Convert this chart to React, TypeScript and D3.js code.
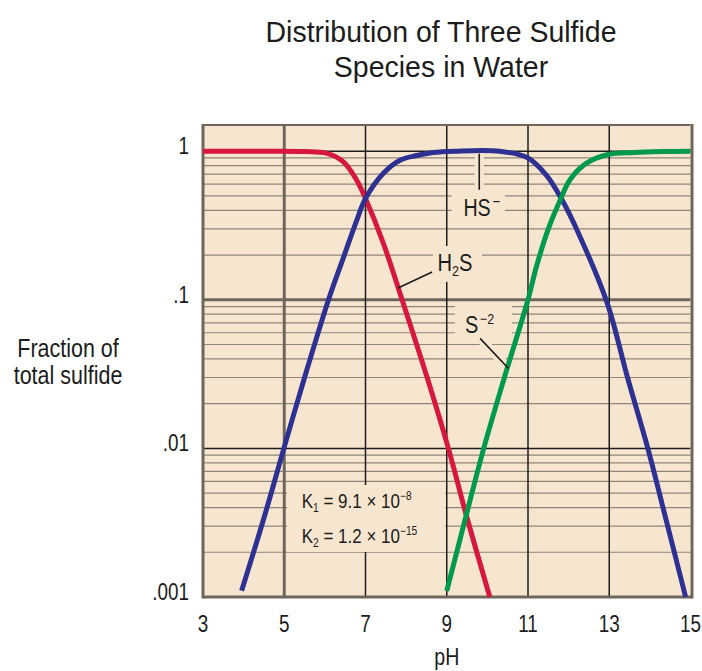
import React from "react";
import * as d3 from "d3";

// Chart size
const W = 702;
const H = 671;

// Axis ticks
const X_TICKS = [3, 5, 7, 9, 11, 13, 15];
const Y_TICKS = [1, 0.1, 0.01, 0.001];
const Y_TICK_LABELS = ["1", ".1", ".01", ".001"];

// Fraction of total sulfide vs pH, one array of [pH, fraction] per species
const H2S_POINTS: [number, number][] = [
  [3, 1], [4.5, 1], [5.5, 0.995], [6.04, 0.97], [6.45, 0.85], [6.78, 0.64], [7, 0.48],
  [7.44, 0.24], [7.9, 0.1], [8.5, 0.031], [9.04, 0.01], [9.5, 0.0034], [10.06, 0.001],
];
const HS_POINTS: [number, number][] = [
  [3.95, 0.0011], [4.5, 0.0034], [5, 0.0102], [5.5, 0.03], [6.1, 0.102], [6.45, 0.19],
  [6.78, 0.34], [7, 0.48], [7.44, 0.71], [7.85, 0.87], [8.26, 0.935], [8.66, 0.98],
  [9.2, 1], [10.3, 1], [11, 0.9], [11.45, 0.69], [11.82, 0.48], [12.27, 0.27],
  [12.95, 0.095], [13.45, 0.03], [13.95, 0.01], [14.4, 0.0033], [14.88, 0.001],
];
const S2_POINTS: [number, number][] = [
  [9, 0.0011], [9.45, 0.0033], [9.91, 0.01], [10.45, 0.032], [11, 0.1], [11.21, 0.168],
  [11.5, 0.3], [11.78, 0.46], [12.03, 0.64], [12.44, 0.83], [12.97, 0.95], [13.6, 0.98],
  [14.3, 0.995], [15, 1],
];

const FONT = "'Liberation Sans', Arial, Helvetica, sans-serif";
const BG = "#f7e6cf";
const INK = "#1c1c1c";
const MINOR = "#8f8677";
const HEAVY = "#6f665b";
const RED = "#d6173f";
const BLUE = "#2e3192";
const GREEN = "#00994d";

type TProps = {
  x: number;
  y: number;
  size: number;
  sx?: number;
  anchor?: "start" | "middle" | "end";
  children: React.ReactNode;
};

// Text drawn with a horizontal squeeze to get a condensed face
function T({ x, y, size, sx = 1, anchor = "start", children }: TProps) {
  return (
    <text
      transform={`translate(${x},${y}) scale(${sx},1)`}
      fontSize={size}
      fontFamily={FONT}
      textAnchor={anchor}
      fill={INK}
    >
      {children}
    </text>
  );
}

export default function App() {
  const x = d3.scaleLinear().domain([3, 15]).range([203, 690.5]);
  const y = d3.scaleLog().domain([0.001, 1.5]).range([597, 125]);
  const line = d3
    .line<[number, number]>()
    .x((d) => x(d[0]))
    .y((d) => y(d[1]))
    .curve(d3.curveCatmullRom.alpha(0.5));

  const minorValues: number[] = [];
  [0.001, 0.01, 0.1].forEach((d) => {
    for (let m = 2; m <= 9; m++) minorValues.push(m * d);
  });

  // Label boxes (in data units) that mask the grid behind the annotations
  const boxes = [
    { x0: 9.12, x1: 10.43, y0: 0.548, y1: 0.35 },
    { x0: 8.66, x1: 9.87, y0: 0.23, y1: 0.132 },
    { x0: 9.2, x1: 10.6, y0: 0.095, y1: 0.0553 },
    { x0: 5.07, x1: 8.96, y0: 0.00567, y1: 0.00201 },
  ];

  // Leader lines from labels to curves: [pH1, f1, pH2, f2]
  const leaders: [number, number, number, number][] = [
    [9.8, 0.96, 9.8, 0.55],
    [7.8, 0.12, 8.64, 0.154],
    [9.82, 0.055, 10.52, 0.0345],
  ];

  const x0 = x(3);
  const x1 = x(15);
  const yTop = y(1.5);
  const yBot = y(0.001);

  return (
    <svg
      width={W}
      height={H}
      viewBox={`0 0 ${W} ${H}`}
      style={{ position: "absolute", left: 0, top: 0, display: "block", background: "#fff" }}
    >
      {/* plot background */}
      <rect x={x0} y={yTop} width={x1 - x0} height={yBot - yTop} fill={BG} />

      {/* minor log grid */}
      {minorValues.map((v, i) => (
        <line key={`m${i}`} x1={x0} x2={x1} y1={y(v)} y2={y(v)} stroke={MINOR} strokeWidth={1.2} />
      ))}

      {/* decade lines */}
      <line x1={x0} x2={x1} y1={y(1)} y2={y(1)} stroke={INK} strokeWidth={1.5} />
      <line x1={x0} x2={x1} y1={y(0.01)} y2={y(0.01)} stroke={INK} strokeWidth={1.5} />
      <line x1={x0} x2={x1} y1={y(0.1)} y2={y(0.1)} stroke={HEAVY} strokeWidth={3} />

      {/* pH lines */}
      {[7, 9, 11, 13].map((p) => (
        <line key={`v${p}`} x1={x(p)} x2={x(p)} y1={yTop} y2={yBot} stroke={INK} strokeWidth={1.5} />
      ))}
      <line x1={x(5)} x2={x(5)} y1={yTop} y2={yBot} stroke={HEAVY} strokeWidth={3} />

      {/* frame */}
      <line x1={x0} x2={x1} y1={yTop} y2={yTop} stroke={HEAVY} strokeWidth={2} />
      <line x1={x0} x2={x1 + 1.5} y1={yBot} y2={yBot} stroke={HEAVY} strokeWidth={3} />
      <line x1={x0} x2={x0} y1={yTop - 1} y2={yBot + 1.5} stroke={HEAVY} strokeWidth={3} />
      <line x1={x1 + 1.5} x2={x1 + 1.5} y1={yTop - 1} y2={yBot + 1.5} stroke={HEAVY} strokeWidth={3} />

      {/* masks behind annotations */}
      {boxes.map((b, i) => (
        <rect
          key={`b${i}`}
          x={x(b.x0)}
          y={y(b.y0)}
          width={x(b.x1) - x(b.x0)}
          height={y(b.y1) - y(b.y0)}
          fill={BG}
        />
      ))}
      {leaders.map((l, i) => (
        <line key={`h${i}`} x1={x(l[0])} y1={y(l[1])} x2={x(l[2])} y2={y(l[3])} stroke={BG} strokeWidth={9} />
      ))}

      {/* species curves */}
      <path d={line(H2S_POINTS) || ""} fill="none" stroke={RED} strokeWidth={5} />
      <path d={line(HS_POINTS) || ""} fill="none" stroke={BLUE} strokeWidth={5} />
      <path d={line(S2_POINTS) || ""} fill="none" stroke={GREEN} strokeWidth={5} />

      {/* leader lines */}
      {leaders.map((l, i) => (
        <line key={`l${i}`} x1={x(l[0])} y1={y(l[1])} x2={x(l[2])} y2={y(l[3])} stroke={INK} strokeWidth={1.6} />
      ))}

      {/* species labels */}
      <T x={x(9.41)} y={y(0.366)} size={24} sx={0.82}>
        HS
        <tspan fontSize={16} dx={2} dy={-9}>−</tspan>
      </T>
      <T x={x(8.77)} y={y(0.156)} size={24} sx={0.84}>
        H
        <tspan fontSize={15} dy={5}>2</tspan>
        <tspan dy={-5}>S</tspan>
      </T>
      <T x={x(9.45)} y={y(0.0595)} size={24} sx={0.83}>
        S
        <tspan fontSize={15} dx={2} dy={-9}>−2</tspan>
      </T>

      {/* dissociation constants */}
      <T x={x(5.43)} y={y(0.00395)} size={20} sx={0.85}>
        K
        <tspan fontSize={12} dy={4}>1</tspan>
        <tspan dy={-4}> = 9.1 × 10</tspan>
        <tspan fontSize={12} dy={-8}>−8</tspan>
      </T>
      <T x={x(5.43)} y={y(0.0023)} size={20} sx={0.85}>
        K
        <tspan fontSize={12} dy={4}>2</tspan>
        <tspan dy={-4}> = 1.2 × 10</tspan>
        <tspan fontSize={12} dy={-8}>−15</tspan>
      </T>

      {/* y tick labels */}
      {Y_TICKS.map((v, i) => (
        <T key={`yt${i}`} x={189} y={y(v) + 3} size={23} sx={0.82} anchor="end">
          {Y_TICK_LABELS[i]}
        </T>
      ))}

      {/* x tick labels */}
      {X_TICKS.map((p) => (
        <T key={`xt${p}`} x={x(p)} y={632} size={23} sx={0.82} anchor="middle">
          {String(p)}
        </T>
      ))}

      {/* axis titles */}
      <T x={x(9)} y={665} size={23} sx={0.85} anchor="middle">pH</T>
      <T x={68} y={357} size={25} sx={0.86} anchor="middle">Fraction of</T>
      <T x={68} y={384} size={25} sx={0.86} anchor="middle">total sulfide</T>

      {/* chart title */}
      <T x={441} y={42} size={30} sx={0.95} anchor="middle">Distribution of Three Sulfide</T>
      <T x={441} y={77} size={30} sx={0.95} anchor="middle">Species in Water</T>
    </svg>
  );
}
